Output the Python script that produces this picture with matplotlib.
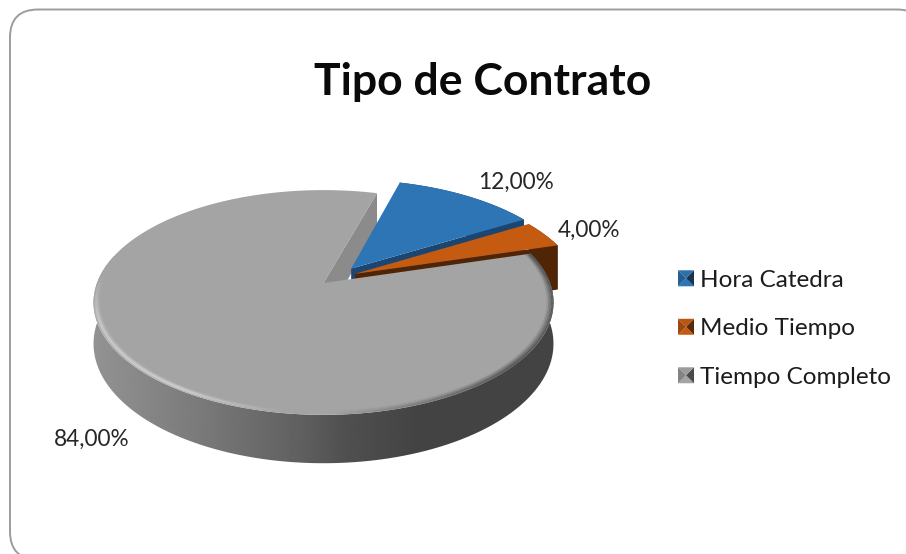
import numpy as np
import matplotlib
matplotlib.use("Agg")
import matplotlib.pyplot as plt
from matplotlib.patches import Polygon, Patch, FancyBboxPatch, PathPatch
from matplotlib.path import Path
from matplotlib.collections import LineCollection
from matplotlib.legend_handler import HandlerBase
from matplotlib.colors import to_rgb

plt.rcParams['font.family'] = ['Lato', 'DejaVu Sans']

# ---- data ----
title = "Tipo de Contrato"
categories = ["Hora Catedra", "Medio Tiempo", "Tiempo Completo"]
values = [12.0, 4.0, 84.0]

# ---- style / geometry ----
colors = ["#2e75b6", "#c55a11", "#a4a4a4"]
wall_colors = ["#1b4672", "#4f2506", "#8b8b8b"]
W, H_PX = 906, 554
START = 16.0              # clockwise from 12 o'clock
CX, CY = 323.5, 283.0
R, HV, K = 226.5, 109.0, 0.1733
DROP = 40.0
DROP_EXPLODED = 47.0
OFFSETS = [(0.125, 0.135), (0.14, 0.085), (0.0, 0.0)]
LABEL_POS = [(516, 182), (589, 230), (92, 439)]


def project(u, v, z=0.0):
    """Perspective projection of a point of the pie disc to the picture."""
    s = 1.0 / (1.0 + K * np.asarray(v))
    return CX + R * np.asarray(u) * s, CY + (-HV * np.asarray(v) + z) * s


def arc(a0, a1, off=(0, 0), r=1.0, z=0.0, n=240):
    t = np.radians(np.linspace(a0, a1, n))
    x, y = project(off[0] + r * np.sin(t), off[1] + r * np.cos(t), z)
    return np.column_stack([x, y])


def point(a, off=(0, 0), z=0.0):
    t = np.radians(a)
    x, y = project(off[0] + np.sin(t), off[1] + np.cos(t), z)
    return np.array([x, y])


def wedge(a0, a1, off=(0, 0)):
    apex = np.array(project(off[0], off[1]))
    return np.vstack([apex, arc(a0, a1, off)])


fig = plt.figure(figsize=(W / 100, H_PX / 100), dpi=100)
ax = fig.add_axes([0, 0, 1, 1])
ax.set_xlim(0, W)
ax.set_ylim(H_PX, 0)
ax.axis("off")

# chart frame (runs past the right and bottom edges of the picture)
ax.add_patch(FancyBboxPatch((10, 9.5), 915, 550,
                            boxstyle="round,pad=0,rounding_size=28",
                            fc="white", ec="#9c9c9c", lw=1.4, zorder=0.5))

# slice angles from the values
fracs = np.array(values) / sum(values) * 360.0
edges = START + np.concatenate([[0], np.cumsum(fracs)])
(b0, b1), (o0, o1), (g0, g1) = zip(edges[:-1], edges[1:])

# grey slice: inner wall in the gap (the face at its closing edge)
a = np.array(project(0, 0))
ax.add_patch(Polygon([a, point(g1), point(g1, z=DROP), np.array(project(0, 0, DROP))],
                     fc=wall_colors[2], ec="none", zorder=1))

# blue slice
off = OFFSETS[0]
ax.add_patch(Polygon(np.vstack([arc(b0, b1, off), arc(b0, b1, off, z=DROP_EXPLODED)[::-1]]),
                     fc=wall_colors[0], ec="none", zorder=2))
ax.add_patch(Polygon([project(*off), point(b1, off), point(b1, off, DROP_EXPLODED),
                      project(off[0], off[1], DROP_EXPLODED)],
                     fc=wall_colors[0], ec="none", zorder=2))
ax.add_patch(Polygon(wedge(b0, b1, off), fc=colors[0], ec="none", zorder=3))

# orange slice
off = OFFSETS[1]
ax.add_patch(Polygon(np.vstack([arc(o0, o1, off), arc(o0, o1, off, z=DROP_EXPLODED)[::-1]]),
                     fc=wall_colors[1], ec="none", zorder=4))
ax.add_patch(Polygon([project(*off), point(o1, off), point(o1, off, DROP_EXPLODED),
                      project(off[0], off[1], DROP_EXPLODED)],
                     fc=wall_colors[1], ec="none", zorder=4))
ax.add_patch(Polygon(wedge(o0, o1, off), fc=colors[1], ec="none", zorder=5))

# grey slice: outer wall with horizontal shading
wall = np.vstack([arc(g0, 285), arc(g0, 285, z=DROP)[::-1]])
xs = np.array([93, 200, 300, 345, 420, 560])
gs = np.array([0x93, 0x7a, 0x60, 0x50, 0x43, 0x43]) / 255.0
grad = np.interp(np.arange(90, 560), xs, gs)[None, :]
im = ax.imshow(grad, cmap="gray", vmin=0, vmax=1, extent=(90, 560, 480, 180),
               aspect="auto", zorder=6, interpolation="bilinear")
clip = PathPatch(Path(wall), transform=ax.transData, fc="none", ec="none")
ax.add_patch(clip)
im.set_clip_path(clip)
ax.set_xlim(0, W)
ax.set_ylim(H_PX, 0)

# grey slice: top
ax.add_patch(Polygon(wedge(g0, g1), fc=colors[2], ec="none", zorder=7))

# rim: dark blur on the right, highlight on the lower left
theta = np.linspace(g0, g1, 500)
tmid = (theta[:-1] + theta[1:]) / 2
dark = np.clip((178 - tmid) / 45, 0, 1) * (tmid > 60)
light = np.clip((tmid - 188) / 25, 0, 1) * np.clip((274 - tmid) / 22, 0, 1)
for r, da, la, lw in [(0.996, .75, .15, 1.5), (0.989, .50, .38, 1.5),
                      (0.982, .30, .22, 1.5), (0.975, .12, .06, 1.5)]:
    pts = arc(g0, g1, r=r, n=500)
    segs = np.stack([pts[:-1], pts[1:]], axis=1)
    cols = np.zeros((len(segs), 4))
    d = dark > light
    cols[d, :3] = to_rgb("#444444")
    cols[d, 3] = dark[d] * da
    cols[~d, :3] = (1, 1, 1)
    cols[~d, 3] = light[~d] * la
    ax.add_collection(LineCollection(segs, colors=cols, linewidths=lw, zorder=8, capstyle="butt"))

# texts
ax.text(483, 82, title, ha="center", va="center", fontsize=32, fontweight="bold",
        color="#0a0a0a", zorder=10)
for v, (lx, ly) in zip(values, LABEL_POS):
    ax.text(lx, ly, f"{v:.2f}%".replace(".", ","), ha="center", va="center",
            fontsize=16.3, color="#262626", zorder=10)


class BevelHandler(HandlerBase):
    def create_artists(self, legend, orig, xd, yd, w, h, fontsize, trans):
        base = np.array(to_rgb(orig.get_facecolor()))
        s = 16.0 * 0.72
        x0, y0 = -xd, (h - s) / 2 - yd
        cx, cy = x0 + s / 2, y0 + s / 2
        c = [(x0, y0), (x0 + s, y0), (x0 + s, y0 + s), (x0, y0 + s)]
        shades = [base * 1.0, base * 0.45, base * 0.95, base * 0.8]
        return [Polygon([c[i], c[(i + 1) % 4], (cx, cy)], fc=np.clip(sh, 0, 1),
                        ec="none", transform=trans)
                for i, sh in enumerate(shades)]


handles = [Patch(facecolor=c, label=l) for c, l in zip(colors, categories)]
leg = ax.legend(handles=handles, labels=categories, loc="upper left",
                bbox_to_anchor=(678 / W, 1 - 269 / H_PX), frameon=False,
                fontsize=17.5, labelcolor="#1c1c1c", handler_map={Patch: BevelHandler()},
                handlelength=0.62, handleheight=0.8, handletextpad=0.27,
                labelspacing=1.1, borderpad=0, borderaxespad=0)
leg.set_zorder(10)

fig.savefig("out.png", dpi=100, facecolor="white")
